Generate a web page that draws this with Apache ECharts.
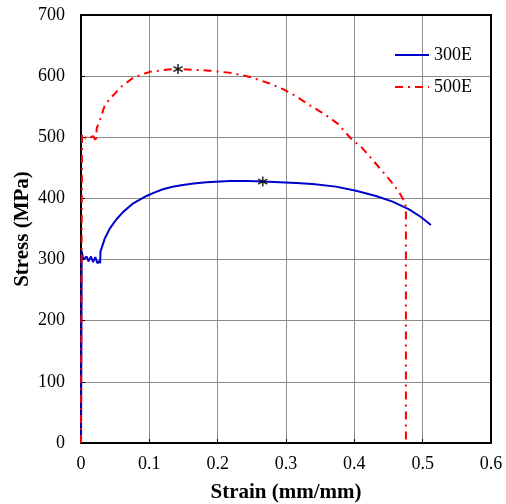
<!DOCTYPE html>
<html>
<head>
<meta charset="utf-8">
<script src="https://cdn.jsdelivr.net/npm/echarts@6/dist/echarts.min.js"></script>
<style>
  html, body { margin: 0; padding: 0; background: #fff; }
  #chart { width: 506px; height: 504px; }
</style>
</head>
<body>
<div id="chart"></div>
<script>
// Engineering stress-strain curves for the two steel grades
const seriesNames = ['300E', '500E'];

const strain300 = [0, 0.001, 0.0034, 0.0083, 0.011, 0.0146, 0.0175, 0.021, 0.024, 0.027, 0.028, 0.0285,
  0.035, 0.0423, 0.052, 0.0618, 0.0764, 0.0959, 0.108, 0.12, 0.134, 0.149, 0.165, 0.1835, 0.2175, 0.245,
  0.266, 0.2905, 0.315, 0.339, 0.373, 0.4025, 0.4316, 0.456, 0.48, 0.497, 0.512];
const stress300 = [0, 314, 300, 305, 297, 305, 296, 304, 294, 298, 294, 313,
  335, 351, 366, 378, 392, 404, 410, 415, 419, 422, 424.5, 426.4, 428.5, 428.5,
  427.5, 426.4, 425.2, 423.6, 419.3, 412.7, 404, 394.7, 382, 370, 356.6];

const strain500 = [0, 0.0015, 0.0034, 0.006, 0.01, 0.014, 0.018, 0.02, 0.022, 0.023, 0.0277,
  0.035, 0.0448, 0.0594, 0.0764, 0.1007, 0.1275, 0.142, 0.165, 0.188, 0.222, 0.249, 0.276, 0.295,
  0.312, 0.334, 0.356, 0.376, 0.395, 0.412, 0.429, 0.4438, 0.458, 0.468, 0.4745, 0.4755, 0.4755];
const stress500 = [0, 505, 503.7, 499, 503, 500, 502, 501, 492, 514.7, 528,
  553, 566, 583, 597.6, 607, 611, 611.5, 610.5, 609, 605, 598, 588, 579,
  569, 553, 538, 522, 498, 482, 460, 441, 422, 405.6, 392, 384, 0];

// Ultimate tensile strength points (asterisk markers)
const peakStrain = [0.142, 0.266];
const peakStress = [611.5, 427.5];

const xTicks = { min: 0, max: 0.6, interval: 0.1 };
const yTicks = { min: 0, max: 700, interval: 100 };

const FONT = 'Liberation Serif';
const asterisk = 'path://M4.25,0L5.75,0L5.75,10L4.25,10Z' +
  'M0.33,3.25L1.08,1.95L9.67,6.75L8.92,8.05Z' +
  'M1.08,8.05L0.33,6.75L8.92,1.95L9.67,3.25Z';

const zip = (xs, ys) => xs.map((x, i) => [x, ys[i]]);

const chart = echarts.init(document.getElementById('chart'), null, { renderer: 'canvas' });

const mainAxisLine = { show: true, onZero: false, lineStyle: { color: '#000', width: 2 } };
const grayGrid = { show: true, showMinLine: false, showMaxLine: false, lineStyle: { color: '#8c8c8c', width: 1 } };

chart.setOption({
  backgroundColor: '#fff',
  animation: false,
  grid: { left: 81, right: 15, top: 15, bottom: 61, containLabel: false, outerBoundsMode: 'none' },
  legend: {
    data: seriesNames,
    orient: 'vertical',
    left: 389,
    top: 41,
    itemWidth: 34,
    itemHeight: 14,
    itemGap: 14,
    itemStyle: { opacity: 0 },
    textStyle: { fontFamily: FONT, fontSize: 18, color: '#000' }
  },
  xAxis: [
    {
      type: 'value', position: 'bottom',
      min: xTicks.min, max: xTicks.max, interval: xTicks.interval,
      name: 'Strain (mm/mm)', nameLocation: 'middle', nameGap: 39,
      nameTextStyle: { fontFamily: FONT, fontSize: 21, fontWeight: 'bold', color: '#000' },
      axisLine: mainAxisLine,
      axisTick: { show: true, inside: true, length: 4, lineStyle: { color: '#000', width: 1 } },
      axisLabel: { fontFamily: FONT, fontSize: 18, color: '#000', margin: 12,
        formatter: v => String(+v.toFixed(1)) },
      splitLine: grayGrid
    },
    {
      type: 'value', position: 'top',
      min: xTicks.min, max: xTicks.max, interval: xTicks.interval,
      axisLine: mainAxisLine, axisTick: { show: false }, axisLabel: { show: false },
      splitLine: { show: false }
    }
  ],
  yAxis: [
    {
      type: 'value', position: 'left',
      min: yTicks.min, max: yTicks.max, interval: yTicks.interval,
      name: 'Stress (MPa)', nameLocation: 'middle', nameGap: 48, nameRotate: 90,
      nameMoveOverlap: false,
      nameTextStyle: { fontFamily: FONT, fontSize: 21, fontWeight: 'bold', color: '#000' },
      axisLine: mainAxisLine,
      axisTick: { show: true, inside: true, length: 4, lineStyle: { color: '#000', width: 1 } },
      axisLabel: { fontFamily: FONT, fontSize: 18, color: '#000', margin: 16 },
      splitLine: grayGrid
    },
    {
      type: 'value', position: 'right',
      min: yTicks.min, max: yTicks.max, interval: yTicks.interval,
      axisLine: mainAxisLine, axisTick: { show: false }, axisLabel: { show: false },
      splitLine: { show: false }
    }
  ],
  series: [
    {
      name: seriesNames[0],
      type: 'line',
      data: zip(strain300, stress300),
      showSymbol: false, symbol: 'none',
      itemStyle: { color: '#0000CC' },
      lineStyle: { color: '#0000CC', width: 2 },
      z: 3
    },
    {
      name: seriesNames[1],
      type: 'line',
      data: zip(strain500, stress500),
      showSymbol: false, symbol: 'none',
      itemStyle: { color: '#FF0000' },
      lineStyle: { color: '#FF0000', width: 2, type: [8, 5, 2, 5] },
      z: 4
    },
    {
      name: 'UTS',
      type: 'scatter',
      data: zip(peakStrain, peakStress),
      symbol: asterisk,
      symbolSize: 10,
      itemStyle: { color: '#000' },
      z: 5
    }
  ]
});
</script>
</body>
</html>
